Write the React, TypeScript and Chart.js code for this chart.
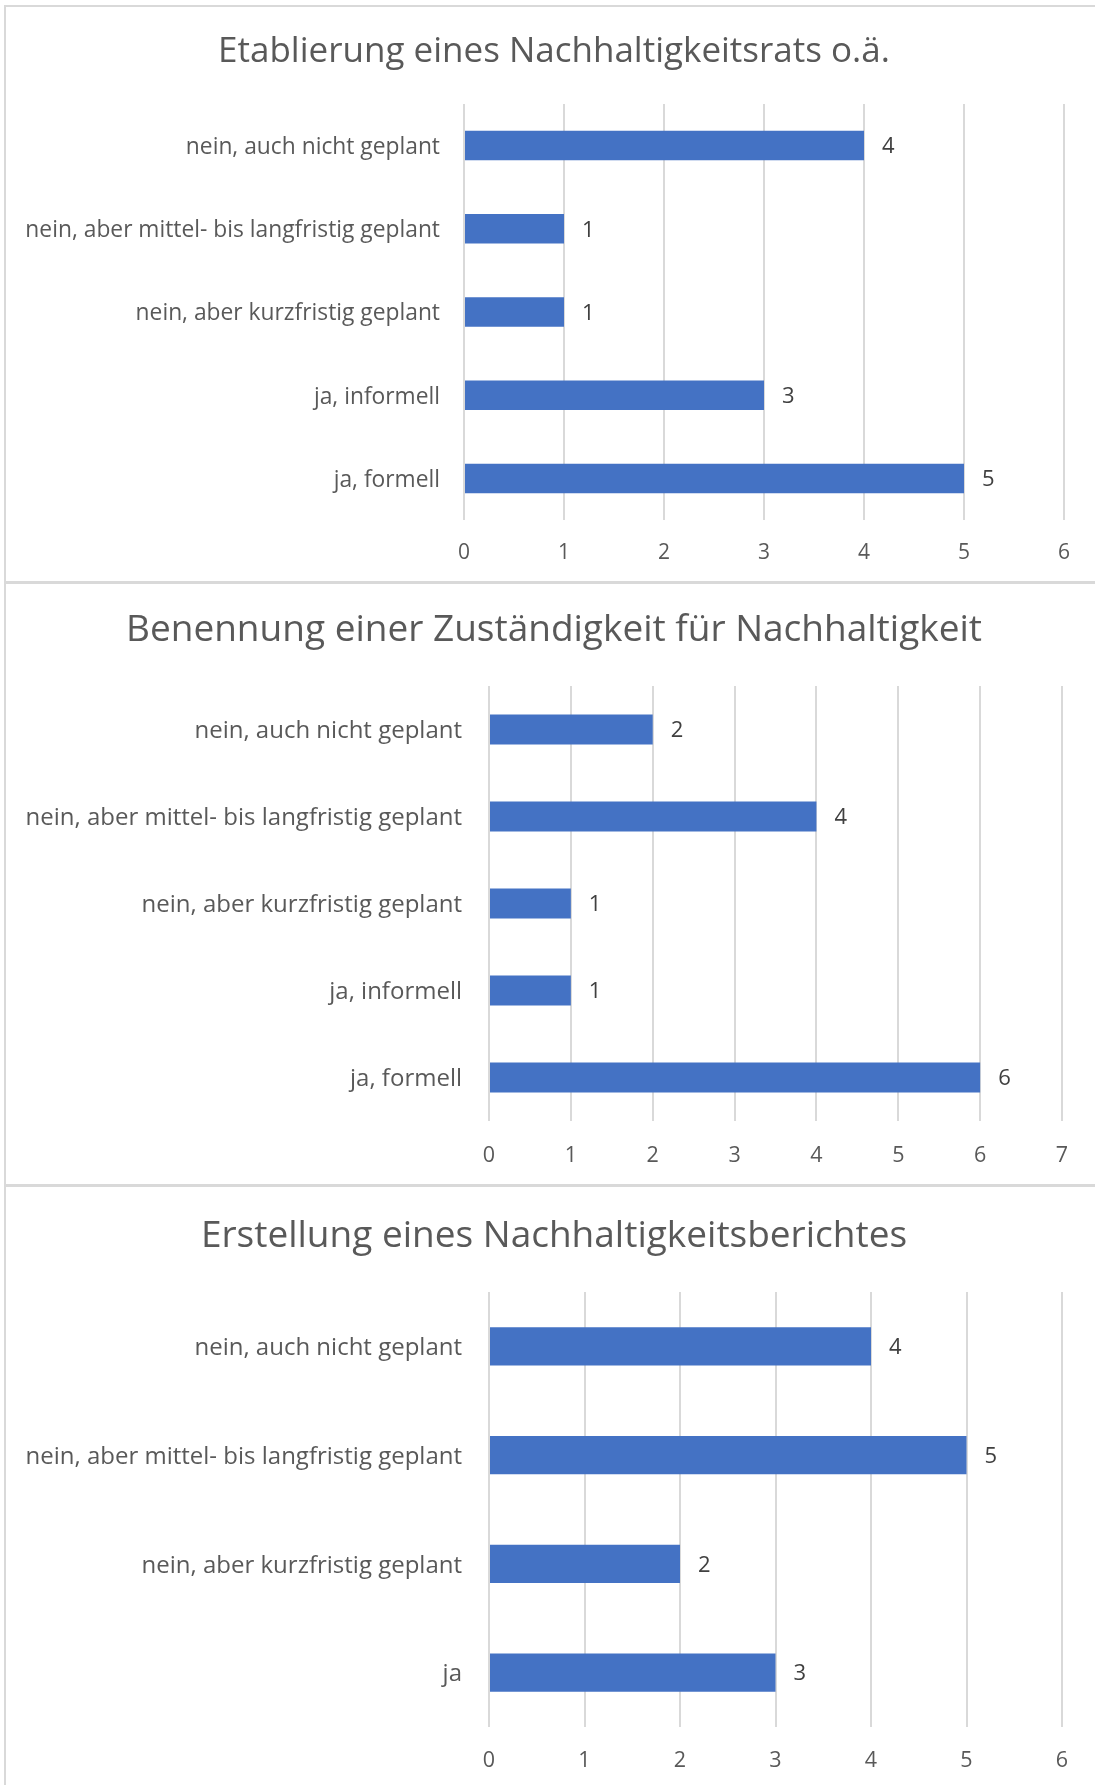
import React, { useEffect, useRef } from 'react';
import { Chart, registerables } from 'chart.js';

Chart.register(...registerables);

// ---------- data ----------
const title1 = 'Etablierung eines Nachhaltigkeitsrats o.ä.';
const categories1 = [
  'nein, auch nicht geplant',
  'nein, aber mittel- bis langfristig geplant',
  'nein, aber kurzfristig geplant',
  'ja, informell',
  'ja, formell',
];
const values1 = [4, 1, 1, 3, 5];
const axisMax1 = 6;

const title2 = 'Benennung einer Zuständigkeit für Nachhaltigkeit';
const categories2 = [
  'nein, auch nicht geplant',
  'nein, aber mittel- bis langfristig geplant',
  'nein, aber kurzfristig geplant',
  'ja, informell',
  'ja, formell',
];
const values2 = [2, 4, 1, 1, 6];
const axisMax2 = 7;

const title3 = 'Erstellung eines Nachhaltigkeitsberichtes';
const categories3 = [
  'nein, auch nicht geplant',
  'nein, aber mittel- bis langfristig geplant',
  'nein, aber kurzfristig geplant',
  'ja',
];
const values3 = [4, 5, 2, 3];
const axisMax3 = 6;

// ---------- styling ----------
const FONT = "'Open Sans', 'Noto Sans', sans-serif";
const BAR_COLOR = '#4472C4';
const GRID_COLOR = '#d9d9d9';
const TEXT_COLOR = '#595959';
const LABEL_COLOR = '#404040';

type PanelSpec = {
  title: string;
  categories: string[];
  values: number[];
  max: number;
  top: number;
  height: number;
  borderTop: number;
  chartLeft: number;
  chartRight: number;
  chartTop: number;
  chartBottom: number;
  labelGap: number;
  tickGap: number;
  titleY: number;
  titleSize: number;
  labelSize: number;
  tickSize: number;
  valueSize: number;
  barPct: number;
};

const titlePlugin = {
  id: 'customTitle',
  afterDraw(chart: any, _args: any, opts: any) {
    const ctx = chart.ctx;
    ctx.save();
    ctx.font = `${opts.size}px ${FONT}`;
    ctx.fillStyle = TEXT_COLOR;
    ctx.textAlign = 'center';
    ctx.textBaseline = 'middle';
    ctx.fillText(opts.text, opts.x, opts.y);
    ctx.restore();
  },
};

const valueLabelPlugin = {
  id: 'valueLabels',
  afterDatasetsDraw(chart: any, _args: any, opts: any) {
    const ctx = chart.ctx;
    ctx.save();
    ctx.font = `${opts.size}px ${FONT}`;
    ctx.fillStyle = LABEL_COLOR;
    ctx.textAlign = 'left';
    ctx.textBaseline = 'middle';
    chart.data.datasets.forEach((ds: any, di: number) => {
      const meta = chart.getDatasetMeta(di);
      meta.data.forEach((bar: any, i: number) => {
        ctx.fillText(String(ds.data[i]), bar.x + 18, bar.y + 1.5);
      });
    });
    ctx.restore();
  },
};

const CANVAS_LEFT = 6;
const CANVAS_WIDTH = 1089;

function Panel({ spec }: { spec: PanelSpec }) {
  const ref = useRef<HTMLCanvasElement | null>(null);
  useEffect(() => {
    if (!ref.current) return;
    const s = spec;
    const canvasTop = s.top + s.borderTop;
    const ch = s.height - s.borderTop;
    const left = s.chartLeft - CANVAS_LEFT;
    const right = s.chartRight - CANVAS_LEFT;
    const top = s.chartTop - canvasTop;
    const bottom = s.chartBottom - canvasTop;
    const xAxisHeight = 45;
    const chart = new Chart(ref.current, {
      type: 'bar',
      data: {
        labels: s.categories,
        datasets: [
          {
            data: s.values,
            backgroundColor: BAR_COLOR,
            barPercentage: s.barPct,
            categoryPercentage: 1,
          },
        ],
      },
      options: {
        indexAxis: 'y',
        animation: false,
        responsive: false,
        maintainAspectRatio: false,
        layout: {
          padding: {
            left: 0,
            top: top,
            right: CANVAS_WIDTH - right,
            bottom: ch - bottom - xAxisHeight,
          },
        },
        plugins: {
          legend: { display: false },
          tooltip: { enabled: false },
          title: { display: false },
          customTitle: { text: s.title, x: 554 - CANVAS_LEFT, y: s.titleY - canvasTop + 1, size: s.titleSize },
          valueLabels: { size: s.valueSize },
        } as any,
        scales: {
          x: {
            min: 0,
            max: s.max,
            ticks: {
              stepSize: 1,
              color: TEXT_COLOR,
              font: { family: FONT, size: s.tickSize },
              padding: s.tickGap,
            },
            grid: { color: GRID_COLOR, lineWidth: 2, drawTicks: false },
            border: { display: false },
            afterFit: (scale: any) => {
              scale.height = xAxisHeight;
            },
          },
          y: {
            ticks: {
              color: TEXT_COLOR,
              font: { family: FONT, size: s.labelSize },
              padding: s.labelGap,
              labelOffset: 2,
              autoSkip: false,
            },
            grid: { display: false, drawTicks: false },
            border: { display: false },
            afterFit: (scale: any) => {
              scale.width = left;
            },
          },
        },
      },
      plugins: [titlePlugin, valueLabelPlugin],
    });
    return () => chart.destroy();
  }, [spec]);

  return (
    <div
      style={{
        position: 'absolute',
        left: 4,
        top: spec.top,
        width: 1200,
        height: spec.height,
        borderTop: `${spec.borderTop}px solid ${GRID_COLOR}`,
        borderLeft: `2px solid ${GRID_COLOR}`,
        boxSizing: 'border-box',
        background: '#fff',
      }}
    >
      <canvas
        ref={ref}
        width={CANVAS_WIDTH}
        height={spec.height - spec.borderTop}
        style={{ position: 'absolute', left: 0, top: 0, width: CANVAS_WIDTH, height: spec.height - spec.borderTop }}
      />
    </div>
  );
}

const panels: PanelSpec[] = [
  {
    title: title1,
    categories: categories1,
    values: values1,
    max: axisMax1,
    top: 5,
    height: 576,
    borderTop: 2,
    chartLeft: 464,
    chartRight: 1064,
    chartTop: 104,
    chartBottom: 520,
    labelGap: 24,
    tickGap: 20,
    titleY: 51,
    titleSize: 35,
    labelSize: 22.8,
    tickSize: 21,
    valueSize: 22,
    barPct: 0.354,
  },
  {
    title: title2,
    categories: categories2,
    values: values2,
    max: axisMax2,
    top: 581,
    height: 603,
    borderTop: 3,
    chartLeft: 489,
    chartRight: 1062,
    chartTop: 686,
    chartBottom: 1121,
    labelGap: 27,
    tickGap: 22,
    titleY: 629,
    titleSize: 37,
    labelSize: 24,
    tickSize: 21.5,
    valueSize: 22,
    barPct: 0.345,
  },
  {
    title: title3,
    categories: categories3,
    values: values3,
    max: axisMax3,
    top: 1184,
    height: 601,
    borderTop: 3,
    chartLeft: 489,
    chartRight: 1062,
    chartTop: 1292,
    chartBottom: 1727,
    labelGap: 27,
    tickGap: 21,
    titleY: 1235,
    titleSize: 37,
    labelSize: 24,
    tickSize: 21.5,
    valueSize: 22,
    barPct: 0.35,
  },
];

export default function App() {
  return (
    <div
      style={{
        position: 'absolute',
        left: 0,
        top: 0,
        width: 1095,
        height: 1785,
        overflow: 'hidden',
        background: '#fff',
      }}
    >
      {panels.map((p, i) => (
        <Panel key={i} spec={p} />
      ))}
    </div>
  );
}
